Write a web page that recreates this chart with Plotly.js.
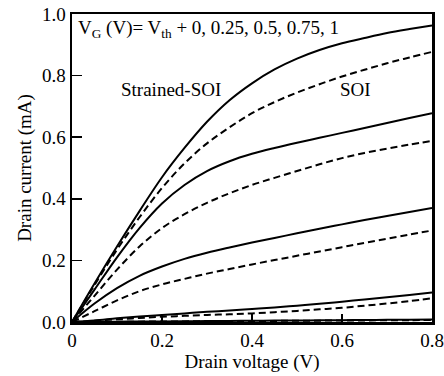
<!DOCTYPE html>
<html>
<head>
<meta charset="utf-8">
<script src="https://cdn.plot.ly/plotly-3.0.1.min.js"></script>
<style>
  html, body { margin: 0; padding: 0; background: #fff; }
  #chart { width: 444px; height: 376px; }
</style>
</head>
<body>
<div id="chart"></div>
<script>
// Drain voltage sample points (V)
const drainVoltage = [0, 0.05, 0.1, 0.15, 0.2, 0.25, 0.3, 0.35, 0.4, 0.45, 0.5, 0.55, 0.6, 0.65, 0.7, 0.75, 0.8];

// Strained-SOI drain current (mA), VG = Vth + 0, 0.25, 0.5, 0.75, 1
const strained0 = [0, 0.0005, 0.001, 0.0015, 0.002, 0.0025, 0.003, 0.0035, 0.004, 0.0045, 0.005, 0.0055, 0.006, 0.0065, 0.007, 0.0075, 0.008];
const strained1 = [0, 0.005, 0.012, 0.018, 0.023, 0.028, 0.033, 0.037, 0.042, 0.047, 0.053, 0.059, 0.066, 0.073, 0.08, 0.088, 0.096];
const strained2 = [0, 0.06, 0.11, 0.15, 0.18, 0.205, 0.225, 0.242, 0.258, 0.273, 0.288, 0.303, 0.317, 0.331, 0.344, 0.357, 0.37];
const strained3 = [0, 0.105, 0.21, 0.305, 0.385, 0.445, 0.49, 0.522, 0.546, 0.565, 0.582, 0.598, 0.614, 0.63, 0.646, 0.662, 0.678];
const strained4 = [0, 0.125, 0.245, 0.36, 0.47, 0.565, 0.65, 0.72, 0.775, 0.82, 0.855, 0.883, 0.905, 0.922, 0.938, 0.951, 0.963];

// SOI drain current (mA), same gate voltages
const soi0 = [0, 0.0004, 0.0008, 0.0012, 0.0016, 0.002, 0.0024, 0.0028, 0.0032, 0.0036, 0.004, 0.0044, 0.0048, 0.0052, 0.0056, 0.006, 0.0064];
const soi1 = [0, 0.004, 0.009, 0.013, 0.017, 0.02, 0.023, 0.025, 0.028, 0.032, 0.036, 0.041, 0.046, 0.053, 0.06, 0.068, 0.077];
const soi2 = [0, 0.035, 0.07, 0.1, 0.122, 0.14, 0.157, 0.172, 0.187, 0.201, 0.215, 0.229, 0.243, 0.257, 0.27, 0.284, 0.297];
const soi3 = [0, 0.085, 0.17, 0.245, 0.305, 0.35, 0.387, 0.418, 0.445, 0.468, 0.49, 0.512, 0.532, 0.549, 0.563, 0.576, 0.588];
const soi4 = [0, 0.12, 0.235, 0.34, 0.435, 0.515, 0.58, 0.632, 0.678, 0.714, 0.745, 0.772, 0.797, 0.819, 0.84, 0.859, 0.877];

const xTickVals = [0, 0.2, 0.4, 0.6, 0.8];
const xTickText = ['0', '0.2', '0.4', '0.6', '0.8'];
const yTickVals = [0, 0.2, 0.4, 0.6, 0.8, 1.0];
const yTickText = ['0.0', '0.2', '0.4', '0.6', '0.8', '1.0'];

const serif = 'Liberation Serif, Liberation Sans, sans-serif';

function curve(y, dashed) {
  return {
    x: drainVoltage,
    y: y,
    type: 'scatter',
    mode: 'lines',
    line: { color: '#000', width: 2, shape: 'spline', smoothing: 1, dash: dashed ? '7px,4px' : 'solid' },
    hoverinfo: 'skip',
    showlegend: false
  };
}

const traces = [
  curve(strained0, false), curve(strained1, false), curve(strained2, false),
  curve(strained3, false), curve(strained4, false),
  curve(soi0, true), curve(soi1, true), curve(soi2, true),
  curve(soi3, true), curve(soi4, true)
];

const layout = {
  width: 444,
  height: 376,
  margin: { l: 72, r: 12, t: 14, b: 54 },
  paper_bgcolor: '#fff',
  plot_bgcolor: '#fff',
  font: { family: serif, size: 17, color: '#000' },
  showlegend: false,
  xaxis: {
    range: [0, 0.8],
    tickvals: xTickVals,
    ticktext: xTickText,
    ticks: 'inside',
    ticklen: 8,
    tickwidth: 1.5,
    tickcolor: '#000',
    showline: true,
    linewidth: 2.5,
    linecolor: '#000',
    mirror: true,
    showgrid: false,
    zeroline: false,
    tickfont: { family: serif, size: 19 },
    title: { text: 'Drain voltage (V)', font: { family: serif, size: 19 }, standoff: 4 }
  },
  yaxis: {
    range: [0, 1.0],
    tickvals: yTickVals,
    ticktext: yTickText,
    ticks: 'inside',
    ticklen: 10,
    tickwidth: 1.5,
    tickcolor: '#000',
    showline: true,
    linewidth: 2.5,
    linecolor: '#000',
    mirror: true,
    showgrid: false,
    zeroline: false,
    tickfont: { family: serif, size: 19 },
    title: { text: 'Drain current (mA)', font: { family: serif, size: 19 }, standoff: 6 }
  },
  annotations: [
    {
      xref: 'paper', yref: 'paper', x: 0.012, y: 0.998,
      xanchor: 'left', yanchor: 'top', showarrow: false,
      text: 'V<sub>G</sub> (V)= V<sub>th</sub> + 0, 0.25, 0.5, 0.75, 1',
      font: { family: serif, size: 19 }
    },
    {
      xref: 'x', yref: 'y', x: 0.22, y: 0.755,
      xanchor: 'center', yanchor: 'middle', showarrow: false,
      text: 'Strained-SOI',
      font: { family: serif, size: 19 }
    },
    {
      xref: 'x', yref: 'y', x: 0.63, y: 0.755,
      xanchor: 'center', yanchor: 'middle', showarrow: false,
      text: 'SOI',
      font: { family: serif, size: 19 }
    }
  ]
};

Plotly.newPlot('chart', traces, layout, { staticPlot: true, displayModeBar: false });
</script>
</body>
</html>
